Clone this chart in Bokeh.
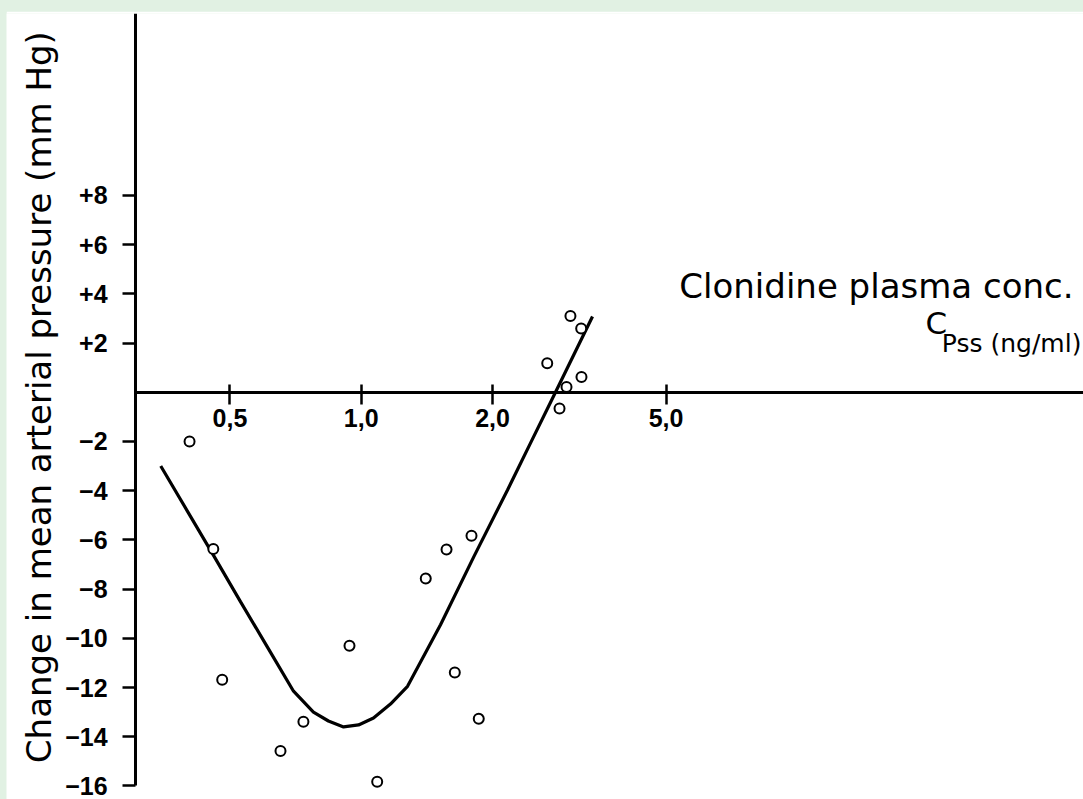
import math
from bokeh.plotting import figure
from bokeh.layouts import column
from bokeh.models import Range1d, FixedTicker, Label
from bokeh.embed import file_html
from bokeh.resources import INLINE

# ---- data ----
conc = [0.404, 0.458, 0.480, 0.653, 0.737, 0.940, 1.088, 1.406, 1.569, 1.790,
        1.639, 1.860, 3.018, 3.194, 2.670, 3.199, 2.956, 2.849]
delta_map = [-2.0, -6.37, -11.68, -14.58, -13.39, -10.3, -15.83, -7.57, -6.39, -5.83,
             -11.39, -13.27, 3.10, 2.59, 1.18, 0.62, 0.21, -0.66]

curve_conc = [0.347, 0.400, 0.4585, 0.529, 0.610, 0.6995, 0.777, 0.841, 0.911, 0.986,
              1.067, 1.167, 1.277, 1.520, 1.809, 2.165, 2.444, 2.789, 3.391]
curve_map = [-3.0, -4.85, -6.63, -8.52, -10.37, -12.15, -13.0, -13.36, -13.6, -13.52,
             -13.24, -12.67, -11.95, -9.45, -6.71, -3.97, -2.07, 0.0, 3.08]

x_ticks = [0.5, 1, 2, 5]
x_tick_labels = ["0,5", "1,0", "2,0", "5,0"]
y_ticks = [-16, -14, -12, -10, -8, -6, -4, -2, 2, 4, 6, 8]
y_tick_labels = ["\u221216", "\u221214", "\u221212", "\u221210", "\u22128", "\u22126",
                 "\u22124", "\u22122", "+2", "+4", "+6", "+8"]

x_origin = 0.3039   # concentration where the vertical axis stands
x_end = 45.3
y_axis_bottom, y_top = -16, 15.39

p = figure(width=1077, height=788, x_axis_type="log",
           x_range=Range1d(0.1537, x_end), y_range=Range1d(-16.55, y_top),
           output_backend="svg", toolbar_location=None,
           min_border_left=0, min_border_right=0, min_border_top=2, min_border_bottom=0)
p.margin = (11, 0, 0, 6)
p.grid.visible = False
p.outline_line_color = None
p.background_fill_color = "white"
p.border_fill_color = "white"

# x axis sits on the zero line, starting at the vertical axis
xa = p.xaxis[0]
xa.fixed_location = 0
xa.bounds = (x_origin, x_end)
xa.ticker = FixedTicker(ticks=x_ticks)
xa.major_label_overrides = dict(zip(x_ticks, x_tick_labels))
xa.axis_line_width = 3
xa.axis_line_color = "black"
xa.major_tick_in = 8
xa.major_tick_out = 12
xa.major_tick_line_width = 2.5
xa.minor_tick_line_color = None
xa.major_label_text_font = "Liberation Sans"
xa.major_label_text_font_style = "bold"
xa.major_label_text_font_size = "25px"
xa.major_label_text_color = "black"
xa.major_label_standoff = 5

# y axis fixed at the origin concentration, running down to -16
ya = p.yaxis[0]
ya.fixed_location = x_origin
ya.bounds = (y_axis_bottom, y_top)
ya.ticker = FixedTicker(ticks=y_ticks)
ya.major_label_overrides = dict(zip(y_ticks, y_tick_labels))
ya.axis_line_width = 3
ya.axis_line_color = "black"
ya.major_tick_in = 0
ya.major_tick_out = 13
ya.major_tick_line_width = 2.5
ya.minor_tick_line_color = None
ya.major_label_text_font = "Liberation Sans"
ya.major_label_text_font_style = "bold"
ya.major_label_text_font_size = "25px"
ya.major_label_text_color = "black"
ya.major_label_standoff = 15

p.line(curve_conc, curve_map, line_color="black", line_width=3.2)
p.scatter(conc, delta_map, marker="circle", size=10, fill_color="white",
          line_color="black", line_width=2)

# y-axis title in the left part of the plot area
p.add_layout(Label(x=0.182, y=-0.2, text="Change in mean arterial pressure (mm Hg)",
                   angle=math.pi / 2, text_align="center", text_baseline="alphabetic",
                   text_font="DejaVu Sans", text_font_size="34px", text_color="black"))

p.add_layout(Label(x=42.97, y=3.50, text="Clonidine plasma conc.", text_align="right",
                   text_font="DejaVu Sans", text_font_size="34px", text_color="black"))
p.add_layout(Label(x=19.67, y=2.08, text="C", text_align="left",
                   text_font="DejaVu Sans", text_font_size="31px", text_color="black"))
p.add_layout(Label(x=44.8, y=1.38, text="Pss (ng/ml)", text_align="right",
                   text_font="DejaVu Sans", text_font_size="25px", text_color="black"))

root = column(p, styles={"background-color": "#e1f1e3"})
open("out.html", "w").write(file_html(root, INLINE))
